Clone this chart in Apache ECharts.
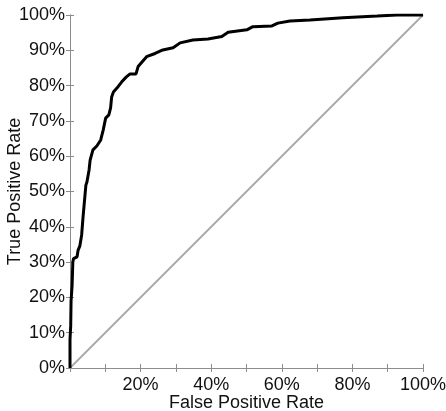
<!DOCTYPE html>
<html>
<head>
<meta charset="utf-8">
<script src="https://cdn.jsdelivr.net/npm/echarts@6/dist/echarts.min.js"></script>
<style>
  html, body { margin: 0; padding: 0; background: #fff; }
  #chart { width: 446px; height: 411px; }
</style>
</head>
<body>
<div id="chart"></div>
<script>
// ROC curve: false positive rate vs. true positive rate
const fpr = [0, 0, 0.002, 0.003, 0.006, 0.008, 0.010, 0.020, 0.023, 0.028, 0.033, 0.037,
  0.045, 0.048, 0.054, 0.057, 0.065, 0.076, 0.087, 0.094, 0.101, 0.110, 0.115, 0.118,
  0.123, 0.133, 0.146, 0.159, 0.170, 0.187, 0.193, 0.204, 0.217, 0.241, 0.263, 0.292,
  0.312, 0.348, 0.391, 0.430, 0.448, 0.501, 0.518, 0.572, 0.589, 0.623, 0.680, 0.773,
  0.870, 0.926, 1.0];
const tpr = [0, 0.08, 0.12, 0.19, 0.235, 0.30, 0.31, 0.315, 0.334, 0.346, 0.377, 0.428,
  0.518, 0.527, 0.561, 0.589, 0.618, 0.629, 0.646, 0.674, 0.708, 0.717, 0.737, 0.768,
  0.782, 0.793, 0.810, 0.824, 0.833, 0.833, 0.854, 0.867, 0.882, 0.891, 0.901, 0.907,
  0.921, 0.929, 0.932, 0.939, 0.951, 0.958, 0.967, 0.969, 0.977, 0.983, 0.986, 0.992,
  0.997, 1.0, 1.0];
// chance line
const chanceX = [0, 1];
const chanceY = [0, 1];

const FONT = 'Liberation Sans';
const AXIS_COLOR = '#8c8c8c';
const pct = v => Math.round(v * 100) + '%';

const roc = fpr.map((x, i) => [x, tpr[i]]);
const chance = chanceX.map((x, i) => [x, chanceY[i]]);

const baseAxis = {
  type: 'value', min: 0, max: 1, interval: 0.1,
  axisLine: { show: true, lineStyle: { color: AXIS_COLOR, width: 1 } },
  axisTick: { show: true, inside: true, length: 4, lineStyle: { color: AXIS_COLOR } },
  splitLine: { show: false }
};

const chart = echarts.init(document.getElementById('chart'));
chart.setOption({
  animation: false,
  grid: { left: 70, right: 23, top: 15, bottom: 43, containLabel: false, outerBoundsMode: 'none' },
  xAxis: [
    Object.assign({}, baseAxis, {
      position: 'bottom',
      name: 'False Positive Rate', nameLocation: 'middle', nameGap: 26, nameMoveOverlap: false,
      nameTextStyle: { fontFamily: FONT, fontSize: 18, color: '#111' },
      axisLabel: {
        fontFamily: FONT, fontSize: 18, color: '#111', margin: 8,
        formatter: v => {
          const p = Math.round(v * 100);
          return (p > 0 && p % 20 === 0) ? p + '%' : '';
        }
      }
    }),
    Object.assign({}, baseAxis, { position: 'top', axisLabel: { show: false } })
  ],
  yAxis: [
    Object.assign({}, baseAxis, {
      position: 'left',
      name: 'True Positive Rate', nameLocation: 'middle', nameGap: 46, nameMoveOverlap: false,
      nameTextStyle: { fontFamily: FONT, fontSize: 18, color: '#111' },
      axisLabel: { fontFamily: FONT, fontSize: 18, color: '#111', margin: 5, formatter: pct }
    }),
    Object.assign({}, baseAxis, { position: 'right', axisLabel: { show: false } })
  ],
  series: [
    {
      type: 'line', data: chance, showSymbol: false, silent: true,
      lineStyle: { color: '#aaaaaa', width: 2 }, z: 2
    },
    {
      type: 'line', data: roc, showSymbol: false, silent: true,
      lineStyle: { color: '#000', width: 3 }, z: 3
    }
  ]
});
</script>
</body>
</html>
